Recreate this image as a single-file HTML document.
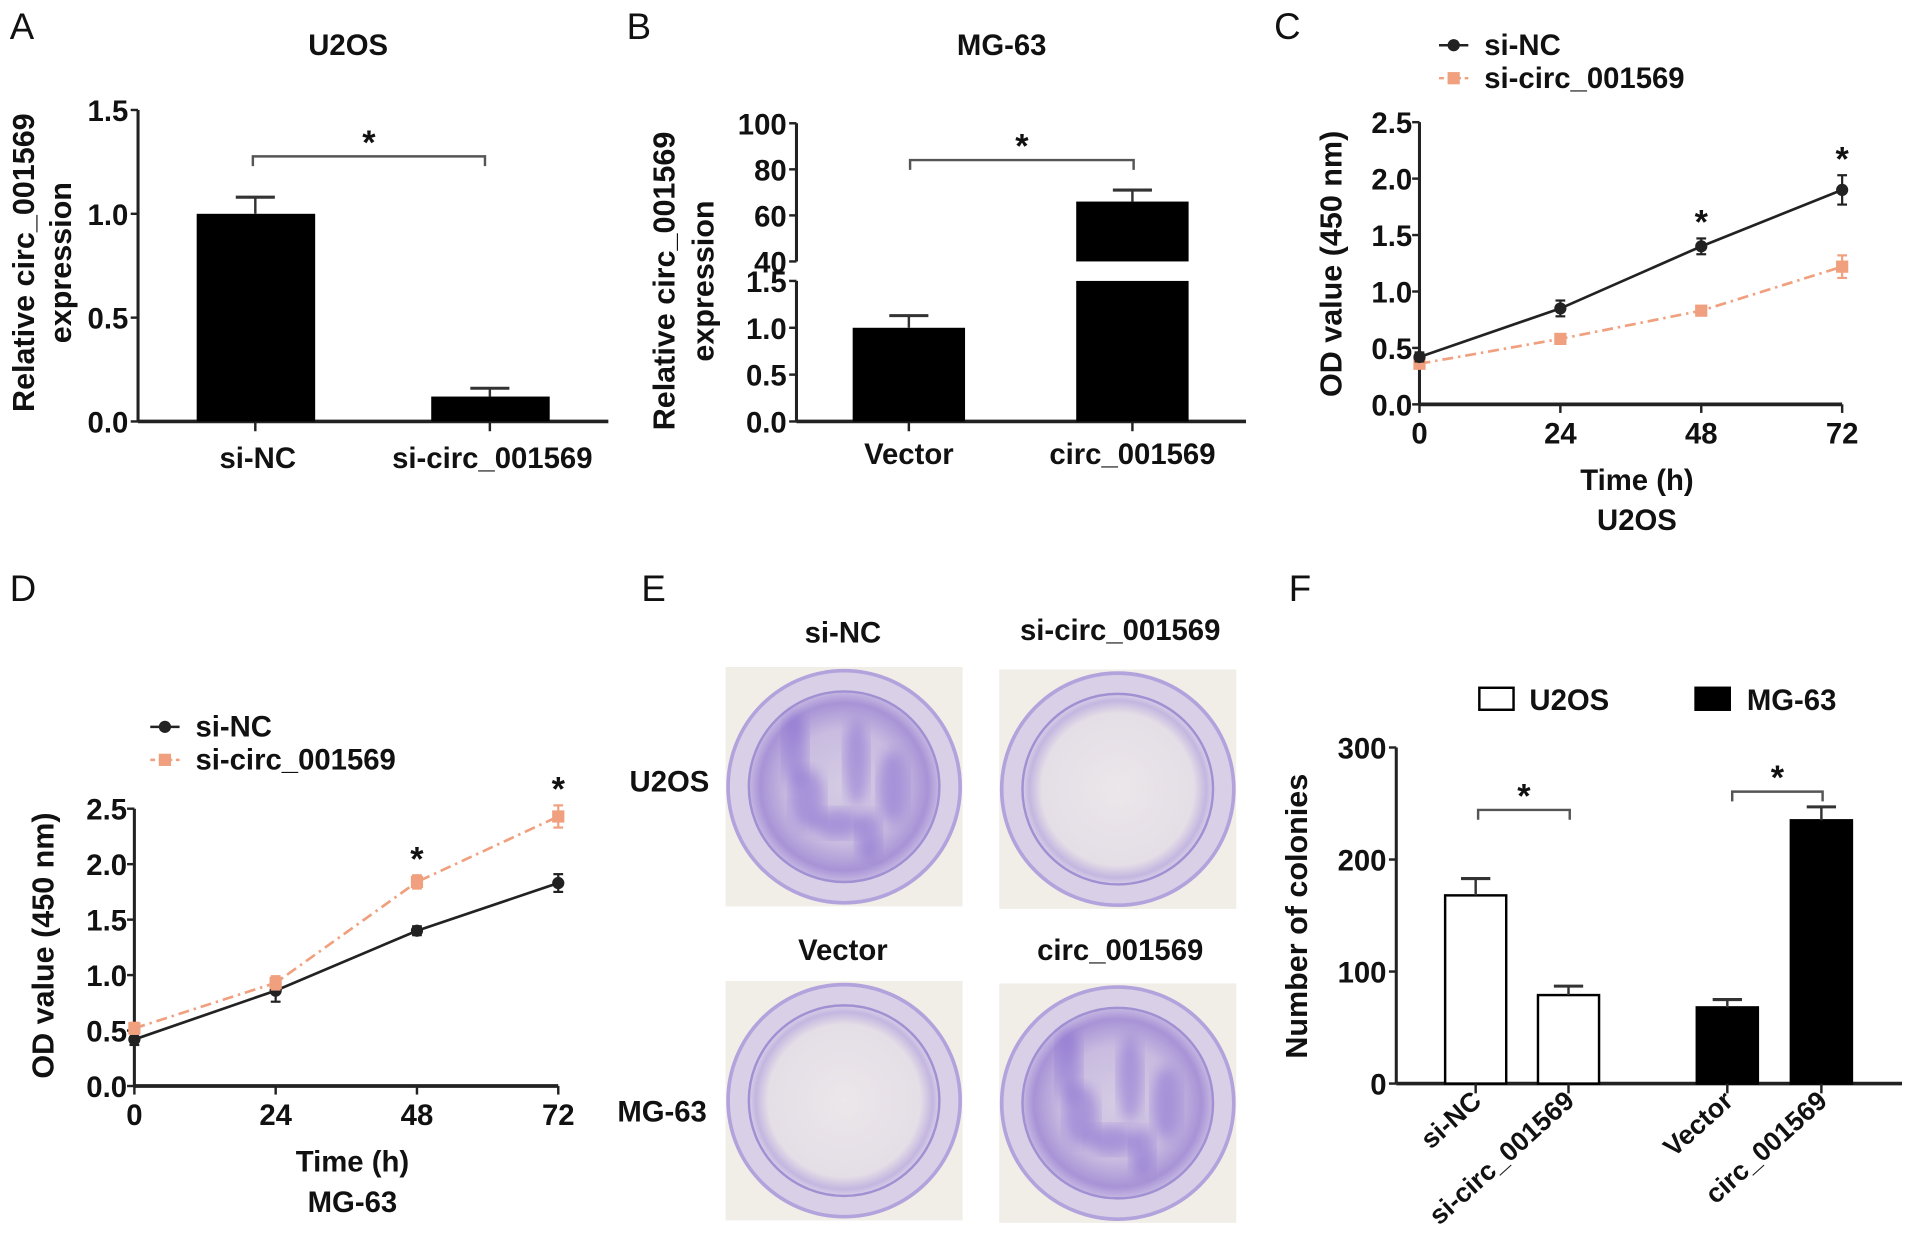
<!DOCTYPE html>
<html><head><meta charset="utf-8"><style>
html,body{margin:0;padding:0;background:#fff;}
svg{display:block;font-family:"Liberation Sans",Arial,sans-serif;font-weight:bold;}
</style></head><body>
<svg id="fig" width="1913" height="1254" viewBox="0 0 1566 1026.5" xmlns="http://www.w3.org/2000/svg">
<defs>
<radialGradient id="dishLight" cx="50%" cy="50%" r="50%">
<stop offset="0%" stop-color="#ebe7ea"/><stop offset="80%" stop-color="#e4dee6"/><stop offset="93%" stop-color="#c4b6e0"/><stop offset="100%" stop-color="#d8d0e8"/></radialGradient>
<radialGradient id="dishDark" cx="50%" cy="50%" r="50%">
<stop offset="0%" stop-color="#d6cce4"/><stop offset="60%" stop-color="#c8bbe0"/><stop offset="88%" stop-color="#a893d6"/><stop offset="100%" stop-color="#c6b8e2"/></radialGradient>
<filter id="blur"><feGaussianBlur stdDeviation="5"/></filter>
</defs>
<g id="root"></g>
</svg>
<script>
// ---- Data ----
const aCats = ["si-NC", "si-circ_001569"];
const aVals = [1.0, 0.12];
const aErrs = [0.08, 0.04];
const aTicks = [0, 0.5, 1.0, 1.5];

const bCats = ["Vector", "circ_001569"];
const bVals = [1.0, 66];
const bErrs = [0.13, 5];
const bTicksLow = [0, 0.5, 1.0, 1.5];
const bTicksHigh = [40, 60, 80, 100];

const timeCats = [0, 24, 48, 72];
const odTicks = [0, 0.5, 1.0, 1.5, 2.0, 2.5];
const cNC = [0.42, 0.85, 1.40, 1.90];
const cNCErr = [0.04, 0.07, 0.07, 0.13];
const cSi = [0.36, 0.58, 0.83, 1.22];
const cSiErr = [0.03, 0.03, 0.03, 0.10];
const dNC = [0.42, 0.86, 1.40, 1.83];
const dNCErr = [0.05, 0.10, 0.04, 0.08];
const dSi = [0.52, 0.93, 1.84, 2.43];
const dSiErr = [0.05, 0.06, 0.06, 0.10];

const fCats = ["si-NC", "si-circ_001569", "Vector", "circ_001569"];
const fVals = [168, 79, 68, 235];
const fErrs = [15, 8, 7, 12];
const fTicks = [0, 100, 200, 300];

const FS = 24;
const NS = "http://www.w3.org/2000/svg";
const root = document.getElementById("root");
function el(tag, attrs, parent) {
  const e = document.createElementNS(NS, tag);
  for (const k in attrs) e.setAttribute(k, attrs[k]);
  (parent || root).appendChild(e);
  return e;
}
function txt(x, y, s, size, anchor, parent, extra) {
  const t = el("text", Object.assign({x: x, y: y, "font-size": size, "text-anchor": anchor || "middle", fill: "#111"}, extra || {}), parent);
  t.textContent = s;
  return t;
}
function line(x1, y1, x2, y2, w, col, parent, dash) {
  const a = {x1: x1, y1: y1, x2: x2, y2: y2, stroke: col || "#222", "stroke-width": w || 2.5};
  if (dash) a["stroke-dasharray"] = dash;
  return el("line", a, parent);
}
function panelLabel(x, y, s) {
  const t = txt(x, y, s, 30, "start", root, {"font-weight": "normal"});
  
  
}
function bracket(x1, x2, y, g) {
  const p = el("path", {d: `M${x1},${y+8} L${x1},${y} L${x2},${y} L${x2},${y+8}`, fill: "none", stroke: "#555", "stroke-width": 2}, g);
  
  
  const s = txt((x1 + x2) / 2, y - 2, "*", 28, "middle", g);
  
  
}
function yTitle(x, y, s, g, size) {
  const t = txt(x, y, s, size || 25, "middle", g, {transform: `rotate(-90 ${x} ${y})`});
  
  
  return t;
}
function errBar(x, yTop, yErr, g, col) {
  line(x, yTop, x, yErr, 2, col || "#333", g);
  line(x - 16, yErr, x + 16, yErr, 2.5, col || "#333", g);
}

// ---- Panel A ----
(function () {
  panelLabel(8, 32, "A");
  const g = el("g", {});
  
  
  const x0 = 113, yb = 345, ppu = 170;
  const Y = v => yb - v * ppu;
  const t = txt(285, 45, "U2OS", FS, "middle", g);
  
  
  line(x0, Y(1.5), x0, yb, 2.5, "#222", g);
  line(x0, yb, 498, yb, 3, "#222", g);
  aTicks.forEach(v => {
    line(x0 - 6, Y(v), x0, Y(v), 2, "#222", g);
    const l = txt(x0 - 8, Y(v) + 9, v.toFixed(1), FS, "end", g);
    
    
  });
  const cx = [209, 401];
  aCats.forEach((c, i) => {
    const b = el("rect", {x: cx[i] - 48, y: Y(aVals[i]), width: 97, height: yb - Y(aVals[i]), fill: "#000"}, g);
    
    
    errBar(cx[i], Y(aVals[i]), Y(aVals[i] + aErrs[i]), g);
    line(cx[i], yb, cx[i], yb + 8, 2, "#222", g);
    const l = txt(cx[i] + 2, 383, c, FS, "middle", g);
    
    
  });
  bracket(207, 397, 128, g);
  yTitle(28, 215, "Relative circ_001569", g);
  yTitle(58, 215, "expression", g);
})();

// ---- Panel B ----
(function () {
  panelLabel(513, 32, "B");
  const g = el("g", {});
  
  
  const x0 = 652, yb = 345;
  const YL = v => yb - v * 76.7;
  const YH = v => 214 - (v - 40) * 1.885;
  const t = txt(820, 45, "MG-63", FS, "middle", g);
  
  
  line(x0, YL(1.5), x0, yb, 2.5, "#222", g);
  line(x0, YH(100), x0, YH(40), 2.5, "#222", g);
  line(x0, yb, 1020, yb, 3, "#222", g);
  bTicksLow.forEach(v => {
    line(x0 - 6, YL(v), x0, YL(v), 2, "#222", g);
    const l = txt(x0 - 8, YL(v) + 9, v.toFixed(1), FS, "end", g);
    
    
  });
  bTicksHigh.forEach(v => {
    line(x0 - 6, YH(v), x0, YH(v), 2, "#222", g);
    const l = txt(x0 - 8, YH(v) + 9, String(v), FS, "end", g);
    
    
  });
  const cx = [744, 927];
  bCats.forEach((c, i) => {
    const v = bVals[i];
    if (v <= 1.5) {
      const b = el("rect", {x: cx[i] - 46, y: YL(v), width: 92, height: yb - YL(v), fill: "#000"}, g);
      
      
      errBar(cx[i], YL(v), YL(v + bErrs[i]), g);
    } else {
      const b1 = el("rect", {x: cx[i] - 46, y: YL(1.5), width: 92, height: yb - YL(1.5), fill: "#000"}, g);
      
      
      const b2 = el("rect", {x: cx[i] - 46, y: YH(v), width: 92, height: YH(40) - YH(v), fill: "#000"}, g);
      
      
      errBar(cx[i], YH(v), YH(v + bErrs[i]), g);
    }
    line(cx[i], yb, cx[i], yb + 8, 2, "#222", g);
    const l = txt(cx[i], 380, c, FS, "middle", g);
    
    
  });
  bracket(745, 928, 131, g);
  yTitle(552, 230, "Relative circ_001569", g);
  yTitle(584, 230, "expression", g);
})();

// ---- Line chart builder ----
function lineChart(opt) {
  const g = el("g", {});
  
  
  const X = t => opt.x0 + (t / 72) * (opt.x1 - opt.x0);
  const Y = v => opt.yb - v * opt.ppu;
  line(opt.x0, Y(2.5), opt.x0, opt.yb, 2.5, "#222", g);
  line(opt.x0, opt.yb, opt.x1, opt.yb, 3, "#222", g);
  odTicks.forEach(v => {
    line(opt.x0 - 6, Y(v), opt.x0, Y(v), 2, "#222", g);
    const l = txt(opt.x0 - 6, Y(v) + 9, v.toFixed(1), FS, "end", g);
    
    
  });
  timeCats.forEach(t => {
    line(X(t), opt.yb, X(t), opt.yb + 7, 2, "#222", g);
    const l = txt(X(t), opt.yb + 32, String(t), FS, "middle", g);
    
    
  });
  const series = [
    {vals: opt.nc, errs: opt.ncErr, col: "#222", dash: null, name: "si-NC", sq: false},
    {vals: opt.si, errs: opt.siErr, col: "#f0a07e", dash: "9,4,2,4", name: "si-circ_001569", sq: true}
  ];
  const order = opt.orangeFirst ? [1, 0] : [0, 1];
  order.forEach(si => {
    const s = series[si];
    const pts = s.vals.map((v, i) => X(timeCats[i]) + "," + Y(v)).join(" ");
    const pl = el("polyline", {points: pts, fill: "none", stroke: s.col, "stroke-width": 2.2}, g);
    if (s.dash) pl.setAttribute("stroke-dasharray", s.dash);
    
    
    s.vals.forEach((v, i) => {
      const x = X(timeCats[i]);
      line(x, Y(v - s.errs[i]), x, Y(v + s.errs[i]), 1.8, s.col, g);
      line(x - 4, Y(v - s.errs[i]), x + 4, Y(v - s.errs[i]), 1.8, s.col, g);
      line(x - 4, Y(v + s.errs[i]), x + 4, Y(v + s.errs[i]), 1.8, s.col, g);
      let m;
      if (s.sq) m = el("rect", {x: x - 5, y: Y(v) - 5, width: 10, height: 10, fill: s.col}, g);
      else m = el("circle", {cx: x, cy: Y(v), r: 5, fill: s.col}, g);
      
      
    });
  });
  opt.stars.forEach(ti => {
    const top = Math.max(opt.nc[ti] + opt.ncErr[ti], opt.si[ti] + opt.siErr[ti]);
    const s = txt(X(timeCats[ti]), Y(top) - 4, "*", 28, "middle", g);
    
    
  });
  const lg = el("g", {}, g);
  
  
  line(opt.lx - 12, opt.ly, opt.lx + 12, opt.ly, 2, "#222", lg);
  el("circle", {cx: opt.lx, cy: opt.ly, r: 5, fill: "#222"}, lg);
  const t1 = txt(opt.lx + 25, opt.ly + 8, "si-NC", FS, "start", lg);
  
  
  line(opt.lx - 12, opt.ly + 27, opt.lx + 12, opt.ly + 27, 2, "#f0a07e", lg, "4,3");
  el("rect", {x: opt.lx - 5, y: opt.ly + 22, width: 10, height: 10, fill: "#f0a07e"}, lg);
  const t2 = txt(opt.lx + 25, opt.ly + 35, "si-circ_001569", FS, "start", lg);
  
  
  const xt = txt((opt.x0 + opt.x1) / 2 + 5, opt.yb + 70, "Time (h)", FS, "middle", g);
  
  
  const ct = txt((opt.x0 + opt.x1) / 2 + 5, opt.yb + 103, opt.cell, FS, "middle", g);
  
  
  yTitle(opt.x0 - opt.tOff, opt.yb - 115, "OD value (450 nm)", g, 25);
}

panelLabel(1043, 32, "C");
lineChart({name: "panel-c-line-chart", x0: 1162, x1: 1508, yb: 331, ppu: 92.4, tOff: 64,
  nc: cNC, ncErr: cNCErr, si: cSi, siErr: cSiErr, stars: [2, 3], lx: 1190, ly: 37, cell: "U2OS", orangeFirst: true});
panelLabel(8, 492, "D");
lineChart({name: "panel-d-line-chart", x0: 110, x1: 457, yb: 889, ppu: 90.8, tOff: 66,
  nc: dNC, ncErr: dNCErr, si: dSi, siErr: dSiErr, stars: [2, 3], lx: 135, ly: 595, cell: "MG-63", orangeFirst: false});

// ---- Panel E (colony dishes) ----
(function () {
  panelLabel(525, 492, "E");
  const g = el("g", {});
  
  
  const dishes = [
    {x: 594, y: 546, dark: true, name: "u2os-si-nc"},
    {x: 818, y: 548, dark: false, name: "u2os-si-circ"},
    {x: 594, y: 803, dark: false, name: "mg63-vector"},
    {x: 818, y: 805, dark: true, name: "mg63-circ"}
  ];
  dishes.forEach(d => {
    const dg = el("g", {}, g);
    
    
    el("rect", {x: d.x, y: d.y, width: 194, height: 196, fill: "#f1eee8"}, dg);
    const cx = d.x + 97, cy = d.y + 98;
    el("circle", {cx: cx, cy: cy, r: 95, fill: "#d9d0e8", stroke: "#b3a3dc", "stroke-width": 3}, dg);
    el("circle", {cx: cx, cy: cy, r: 78, fill: d.dark ? "url(#dishDark)" : "url(#dishLight)", stroke: "#a190d2", "stroke-width": 2}, dg);
    if (d.dark) {
      [[-40,-30,10,30],[-30,10,14,25],[10,-20,10,35],[40,0,12,30],[-5,30,20,12],[20,40,10,20]].forEach(b => {
        el("ellipse", {cx: cx + b[0], cy: cy + b[1], rx: b[2], ry: b[3], fill: "#7b5fcf", opacity: 0.45, filter: "url(#blur)"}, dg);
      });
    }
  });
  [["si-NC", 690, 526], ["si-circ_001569", 917, 524], ["Vector", 690, 786], ["circ_001569", 917, 786]].forEach(a => {
    const l = txt(a[1], a[2], a[0], FS, "middle", g);
    
    
  });
  const r1 = txt(548, 648, "U2OS", FS, "middle", g);
  
  
  const r2 = txt(542, 918, "MG-63", FS, "middle", g);
  
  
})();

// ---- Panel F ----
(function () {
  panelLabel(1055, 492, "F");
  const g = el("g", {});
  
  
  const x0 = 1143, yb = 887, ppu = 0.917;
  const Y = v => yb - v * ppu;
  line(x0, Y(300), x0, yb, 2.5, "#222", g);
  line(x0, yb, 1557, yb, 3, "#222", g);
  fTicks.forEach(v => {
    line(x0 - 6, Y(v), x0, Y(v), 2, "#222", g);
    const l = txt(x0 - 8, Y(v) + 9, String(v), FS, "end", g);
    
    
  });
  const cx = [1208, 1284, 1414, 1491];
  fCats.forEach((c, i) => {
    const black = i >= 2;
    const b = el("rect", {x: cx[i] - 25, y: Y(fVals[i]), width: 50, height: yb - Y(fVals[i]), fill: black ? "#000" : "#fff", stroke: "#000", "stroke-width": 2}, g);
    
    
    line(cx[i], Y(fVals[i]), cx[i], Y(fVals[i] + fErrs[i]), 2, "#333", g);
    line(cx[i] - 12, Y(fVals[i] + fErrs[i]), cx[i] + 12, Y(fVals[i] + fErrs[i]), 2.5, "#333", g);
    line(cx[i], yb, cx[i], yb + 8, 2, "#222", g);
    const lx = cx[i] + 6, ly = yb + 16;
    const l = txt(lx, ly, c, 22, "end", g, {transform: `rotate(-42 ${lx} ${ly})`});
    
    
  });
  bracket(1210, 1285, 663, g);
  bracket(1418, 1492, 648, g);
  const lg = el("g", {}, g);
  
  
  el("rect", {x: 1211, y: 563, width: 28, height: 18, fill: "#fff", stroke: "#000", "stroke-width": 2}, lg);
  const t1 = txt(1252, 581, "U2OS", FS, "start", lg);
  
  
  el("rect", {x: 1387, y: 562, width: 30, height: 20, fill: "#000"}, lg);
  const t2 = txt(1430, 581, "MG-63", FS, "start", lg);
  
  
  yTitle(1070, 750, "Number of colonies", g, 25);
})();
</script>
</body></html>
